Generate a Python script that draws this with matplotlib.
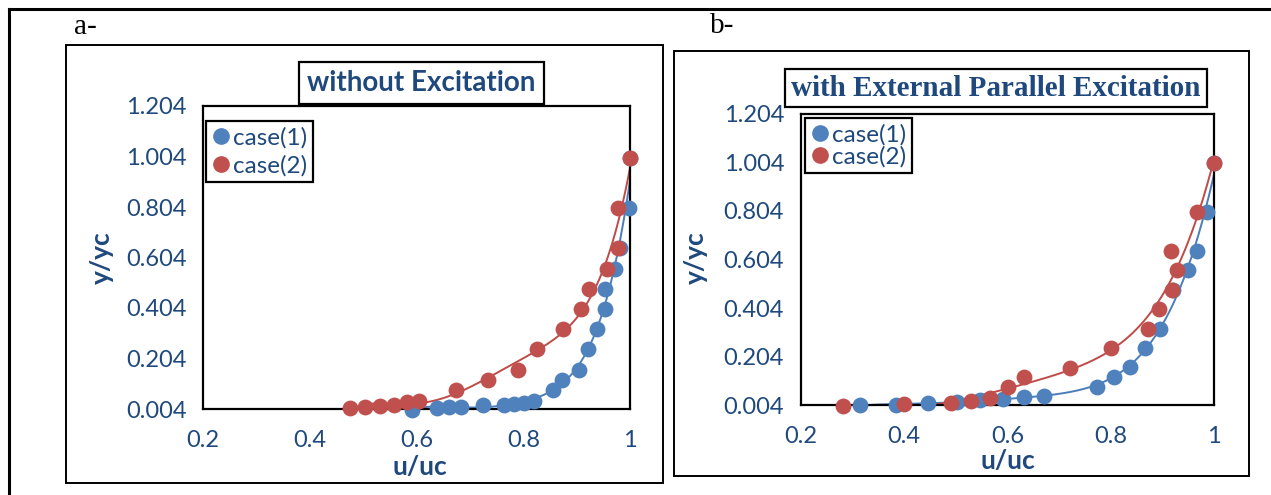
import numpy as np
import matplotlib
matplotlib.use("Agg")
import matplotlib.pyplot as plt
from matplotlib.patches import Rectangle
from matplotlib.lines import Line2D

# panel a: without excitation
a_c1_x = [0.591, 0.638, 0.661, 0.683, 0.725, 0.764, 0.783, 0.801, 0.820, 0.856,
          0.873, 0.904, 0.921, 0.938, 0.953, 0.953, 0.972, 0.981, 0.998, 1.0]
a_c1_y = [0.0, 0.008, 0.012, 0.012, 0.02, 0.02, 0.024, 0.028, 0.036, 0.08,
          0.12, 0.16, 0.24, 0.32, 0.40, 0.48, 0.56, 0.64, 0.80, 1.0]
a_c2_x = [0.475, 0.503, 0.531, 0.557, 0.582, 0.604, 0.674, 0.734, 0.790, 0.826,
          0.874, 0.908, 0.923, 0.957, 0.978, 0.978, 1.0]
a_c2_y = [0.008, 0.012, 0.016, 0.02, 0.032, 0.036, 0.08, 0.12, 0.16, 0.24,
          0.32, 0.40, 0.48, 0.56, 0.64, 0.80, 1.0]

# panel b: with external parallel excitation
b_c1_x = [0.315, 0.385, 0.447, 0.502, 0.547, 0.592, 0.632, 0.671, 0.774, 0.806,
          0.836, 0.866, 0.895, 0.921, 0.950, 0.966, 0.985, 1.0]
b_c1_y = [0.004, 0.005, 0.012, 0.019, 0.026, 0.029, 0.038, 0.042, 0.08, 0.12,
          0.16, 0.24, 0.32, 0.48, 0.56, 0.64, 0.80, 1.0]
b_c2_x = [0.282, 0.400, 0.490, 0.529, 0.566, 0.600, 0.632, 0.721, 0.800, 0.871,
          0.894, 0.918, 0.928, 0.916, 0.966, 1.0]
b_c2_y = [0.0, 0.008, 0.015, 0.02, 0.034, 0.078, 0.119, 0.158, 0.238, 0.318,
          0.40, 0.48, 0.56, 0.64, 0.80, 1.0]

x_ticks = [0.2, 0.4, 0.6, 0.8, 1.0]
x_ticklabels = ["0.2", "0.4", "0.6", "0.8", "1"]
y_ticks = [0.004, 0.204, 0.404, 0.604, 0.804, 1.004, 1.204]

BLUE = "#4F81BD"; RED = "#C0504D"
BLUE_L = "#4A7EBB"; RED_L = "#BE4B48"
TXT = "#1F497D"
SANS = ["Lato", "DejaVu Sans"]
SERIF = ["Liberation Serif", "DejaVu Serif"]

plt.rcParams["font.family"] = SANS


def trend(x, y, deg=5):
    p = np.polyfit(x, y, deg)
    xs = np.linspace(min(x), 1.0, 200)
    return xs, np.polyval(p, xs)


def panel(ax, c1, c2, leg_anchor, leg_spacing, xl, yl):
    for (x, y), col, lcol, lbl in [(c1, BLUE, BLUE_L, "case(1)"), (c2, RED, RED_L, "case(2)")]:
        xs, ys = trend(x, y)
        ax.plot(xs, ys, color=lcol, lw=1.4, zorder=2)
        ax.scatter(x, y, s=130, color=col, zorder=3, clip_on=False, label=lbl, linewidths=0)
    ax.set_xlim(0.2, 1.0); ax.set_ylim(0.004, 1.204)
    ax.set_xticks(x_ticks); ax.set_xticklabels(x_ticklabels)
    ax.set_yticks(y_ticks); ax.set_yticklabels([f"{v:.3f}" for v in y_ticks])
    ax.tick_params(length=0, labelsize=17, labelcolor=TXT)
    ax.tick_params(axis="y", pad=12); ax.tick_params(axis="x", pad=15)
    for s in ax.spines.values():
        s.set_linewidth(1.6); s.set_color("black")
    ax.set_xlabel("u/uc", fontsize=19, fontweight="bold", color=TXT, va="center")
    ax.set_ylabel("y/yc", fontsize=19, fontweight="bold", color=TXT, va="center")
    ax.xaxis.set_label_coords(*xl); ax.yaxis.set_label_coords(*yl)
    handles = [Line2D([], [], ls="", marker="o", ms=11, color=BLUE, mec=BLUE),
               Line2D([], [], ls="", marker="o", ms=11, color=RED, mec=RED)]
    leg = ax.legend(handles, ["case(1)", "case(2)"], loc="upper left", bbox_to_anchor=leg_anchor,
                    borderaxespad=0, fontsize=17.5, labelcolor=TXT, fancybox=False, framealpha=1,
                    edgecolor="black", handlelength=0.7, handletextpad=0.15, labelspacing=leg_spacing,
                    borderpad=0.25)
    leg.get_frame().set_linewidth(1.6)


fig = plt.figure(figsize=(12.71, 4.95), dpi=100)
W, H = 1271, 495

# outer table lines
fig.add_artist(Line2D([9 / W, 1.0], [1 - 9 / H, 1 - 9 / H], color="black", lw=2.2))
fig.add_artist(Line2D([9 / W, 9 / W], [0, 1 - 9 / H], color="black", lw=2.2))
# chart area frames
fig.add_artist(Rectangle((66 / W, 1 - 483 / H), 597 / W, 438 / H, fill=False, ec="black", lw=1.4))
fig.add_artist(Rectangle((674 / W, 1 - 476 / H), 575 / W, 425 / H, fill=False, ec="black", lw=1.4))

ax1 = fig.add_axes([203 / W, 1 - 409 / H, 427 / W, 303 / H])
panel(ax1, (a_c1_x, a_c1_y), (a_c2_x, a_c2_y), (0.007, 0.95), 0.25, (0.508, -0.19), (-0.2365, 0.498))
ax2 = fig.add_axes([800.7 / W, 1 - 405.3 / H, 413.6 / W, 291.6 / H])
panel(ax2, (b_c1_x, b_c1_y), (b_c2_x, b_c2_y), (0.0104, 0.985), 0.0, (0.501, -0.19), (-0.253, 0.505))

fig.text(421.5 / W, 1 - 83 / H, "without Excitation", fontsize=20, fontweight="bold", color=TXT,
         ha="center", va="center",
         bbox=dict(boxstyle="square,pad=0.3", fc="white", ec="black", lw=1.6))
fig.text(996 / W, 1 - 88 / H, "with External Parallel Excitation", fontsize=21, fontweight="bold",
         color=TXT, family=SERIF, ha="center", va="center",
         bbox=dict(boxstyle="square,pad=0.2", fc="white", ec="black", lw=1.6))

fig.text(85 / W, 1 - 27 / H, "a-", fontsize=21, family=SERIF, ha="center", va="center")
fig.text(722 / W, 1 - 26 / H, "b-", fontsize=21, family=SERIF, ha="center", va="center")

fig.savefig("out.png", dpi=100)
